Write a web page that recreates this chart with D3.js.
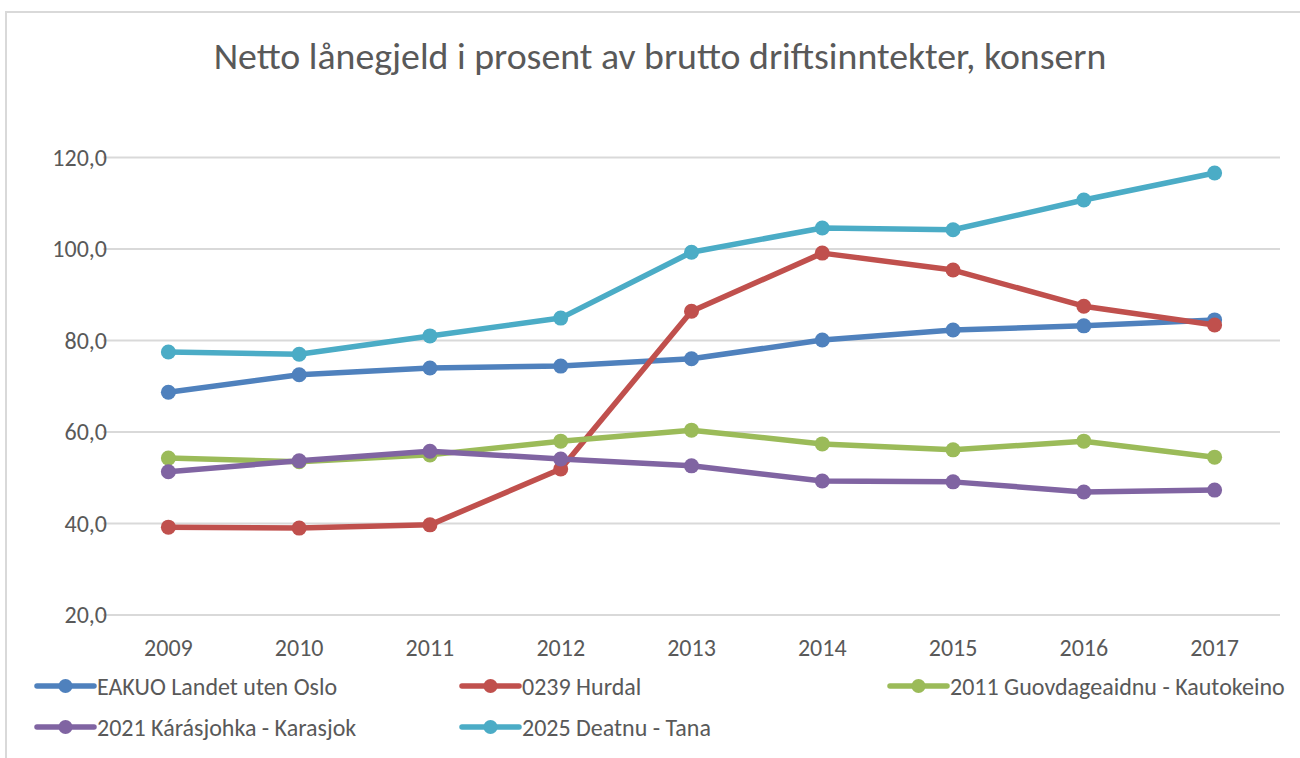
<!DOCTYPE html>
<html>
<head>
<meta charset="utf-8">
<script src="https://cdn.jsdelivr.net/npm/d3@7"></script>
<style>
  html, body { margin: 0; padding: 0; background: #fff; }
  svg { display: block; }
</style>
</head>
<body>
<svg id="chart" width="1300" height="758"></svg>
<script>
// data
const years = ["2009", "2010", "2011", "2012", "2013", "2014", "2015", "2016", "2017"];

const eakuo = [68.7, 72.5, 74.0, 74.4, 76.0, 80.1, 82.3, 83.2, 84.5];
const hurdal = [39.2, 39.0, 39.7, 51.9, 86.4, 99.1, 95.4, 87.5, 83.4];
const kautokeino = [54.3, 53.5, 55.0, 58.0, 60.4, 57.4, 56.1, 58.0, 54.5];
const karasjok = [51.3, 53.7, 55.8, 54.1, 52.6, 49.3, 49.1, 46.9, 47.3];
const tana = [77.5, 77.0, 81.0, 84.9, 99.3, 104.6, 104.2, 110.7, 116.6];

const seriesNames = [
  "EAKUO Landet uten Oslo",
  "0239 Hurdal",
  "2011 Guovdageaidnu - Kautokeino",
  "2021 Kárásjohka - Karasjok",
  "2025 Deatnu - Tana"
];
const yTicks = [20, 40, 60, 80, 100, 120];

const titleText = "Netto lånegjeld i prosent av brutto driftsinntekter, konsern";

const colors = ["#4f81bd", "#c0504d", "#9bbb59", "#8064a2", "#4bacc6"];
const allSeries = [eakuo, hurdal, kautokeino, karasjok, tana];

const svg = d3.select("#chart");
const font = "Carlito, Calibri, 'Open Sans', sans-serif";
svg.style("font-family", font);

// outer frame (only top and left edges are visible in the crop)
svg.append("path")
  .attr("d", "M6,758 V12 H1300")
  .attr("fill", "none")
  .attr("stroke", "#d9d9d9")
  .attr("stroke-width", 2);

// title, fitted to the reference width
const title = svg.append("text")
  .attr("x", 660)
  .attr("y", 69)
  .attr("text-anchor", "middle")
  .attr("fill", "#595959")
  .attr("font-size", 30)
  .text(titleText);
const tw = title.node().getComputedTextLength();
title.attr("font-size", 30 * 893 / tw);

// scales
const x = d3.scalePoint()
  .domain(years)
  .range([103, 1280])
  .padding(0.5);

const y = d3.scaleLinear()
  .domain([20, 120])
  .range([615, 157.5]);

// gridlines + y labels
const yAxis = svg.append("g");
yTicks.forEach(t => {
  yAxis.append("line")
    .attr("x1", 103)
    .attr("x2", 1280)
    .attr("y1", y(t))
    .attr("y2", y(t))
    .attr("stroke", "#d9d9d9")
    .attr("stroke-width", 2);

  yAxis.append("text")
    .attr("x", 107)
    .attr("y", y(t) + 8)
    .attr("text-anchor", "end")
    .attr("fill", "#595959")
    .attr("font-size", 24)
    .text(d3.format(".1f")(t).replace(".", ","));
});

// x labels
svg.append("g")
  .selectAll("text")
  .data(years)
  .join("text")
  .attr("x", d => x(d))
  .attr("y", 656)
  .attr("text-anchor", "middle")
  .attr("fill", "#595959")
  .attr("font-size", 24)
  .text(d => d);

// lines and markers, drawn in series order
const line = d3.line()
  .x((d, i) => x(years[i]))
  .y(d => y(d));

allSeries.forEach((values, s) => {
  const g = svg.append("g");

  g.append("path")
    .datum(values)
    .attr("fill", "none")
    .attr("stroke", colors[s])
    .attr("stroke-width", 5.5)
    .attr("stroke-linejoin", "round")
    .attr("d", line);

  g.selectAll("circle")
    .data(values)
    .join("circle")
    .attr("cx", (d, i) => x(years[i]))
    .attr("cy", d => y(d))
    .attr("r", 7.5)
    .attr("fill", colors[s]);
});

// legend
const legendPos = [
  [37, 686], [462, 686], [890, 686],
  [37, 727], [462, 727]
];

seriesNames.forEach((name, s) => {
  const [lx, ly] = legendPos[s];
  const g = svg.append("g").attr("transform", `translate(${lx},${ly})`);

  g.append("line")
    .attr("x1", 0)
    .attr("x2", 57)
    .attr("y1", 0)
    .attr("y2", 0)
    .attr("stroke", colors[s])
    .attr("stroke-width", 5.5)
    .attr("stroke-linecap", "round");

  g.append("circle")
    .attr("cx", 28.5)
    .attr("cy", 0)
    .attr("r", 7)
    .attr("fill", colors[s]);

  g.append("text")
    .attr("x", 60)
    .attr("y", 8.5)
    .attr("fill", "#595959")
    .attr("font-size", 24)
    .text(name);
});
</script>
</body>
</html>
